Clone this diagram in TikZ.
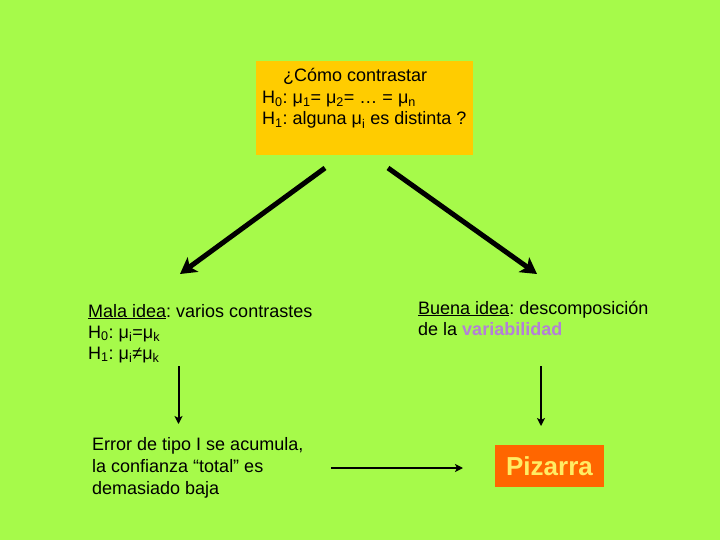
\documentclass[tikz,border=0pt]{standalone}
\usepackage{fontspec}
\setmainfont{Liberation Sans}
\usetikzlibrary{arrows.meta}
\frenchspacing
\definecolor{bggreen}{RGB}{166,250,74}
\definecolor{boxyellow}{RGB}{255,204,0}
\definecolor{boxorange}{RGB}{255,102,0}
\definecolor{pztext}{RGB}{255,236,100}
\definecolor{lilac}{RGB}{180,128,216}
\newcommand\sbs[1]{\textsubscript{#1}}
\tikzset{
  txt/.style={anchor=base west, inner sep=0pt, font=\fontsize{18}{22}\selectfont\frenchspacing, text=black},
  bigarrow/.style={line width=5pt, -{Stealth[length=16pt,width=18pt,inset=4pt]}},
  thinarrow/.style={line width=2pt, -{Stealth[length=8pt,width=8pt,inset=2pt]}},
}
\begin{document}
\begin{tikzpicture}[x=1pt,y=-1pt]
\fill[bggreen] (0,0) rectangle (720,540);
\useasboundingbox (0,0) rectangle (720,540);
% top box
\fill[boxyellow] (256,61) rectangle (473,155);
\node[txt] (t1) at (283,82) {¿Cómo contrastar};
\node[txt] (t2) at (262,104) {H\sbs{0}: μ\sbs{1}= μ\sbs{2}= … = μ\sbs{n}};
\node[txt] (t3) at (262,125) {H\sbs{1}: alguna μ\sbs{i} es distinta ?};
% diagonal arrows
\coordinate (la0) at (325,168); \coordinate (la1) at (180,274);
\coordinate (ra0) at (388,168); \coordinate (ra1) at (537,274);
\draw[bigarrow] (la0) -- (la1);
\draw[bigarrow] (ra0) -- (ra1);
% left block
\node[txt] (l1) at (88,317) {\underline{Mala idea}: varios contrastes};
\node[txt] (l2) at (88,338) {H\sbs{0}: μ\sbs{i}=μ\sbs{k}};
\node[txt] (l3) at (88,359) {H\sbs{1}: μ\sbs{i}≠μ\sbs{k}};
% right block
\node[txt] (r1) at (418,314) {\underline{Buena idea}: descomposición};
\node[txt] (r2) at (418,335) {de la \textcolor{lilac}{\bfseries variabilidad}};
% vertical arrows
\coordinate (lv0) at (178.5,366); \coordinate (lv1) at (178.5,424);
\coordinate (rv0) at (541,366); \coordinate (rv1) at (541,426);
\draw[thinarrow] (lv0) -- (lv1);
\draw[thinarrow] (rv0) -- (rv1);
% bottom left
\node[txt] (b1) at (92,450) {Error de tipo I se acumula,};
\node[txt] (b2) at (92,472) {la confianza “total” es};
\node[txt] (b3) at (92,494) {demasiado baja};
% Pizarra
\node[fill=boxorange, minimum width=109pt, minimum height=42pt, inner sep=0pt,
      font=\fontsize{26}{30}\selectfont\bfseries, text=pztext] (pz) at (549.5,466) {Pizarra};
\coordinate (h0) at (331,468); \coordinate (h1) at (463,468);
\draw[thinarrow] (h0) -- (h1);
\end{tikzpicture}
\end{document}
